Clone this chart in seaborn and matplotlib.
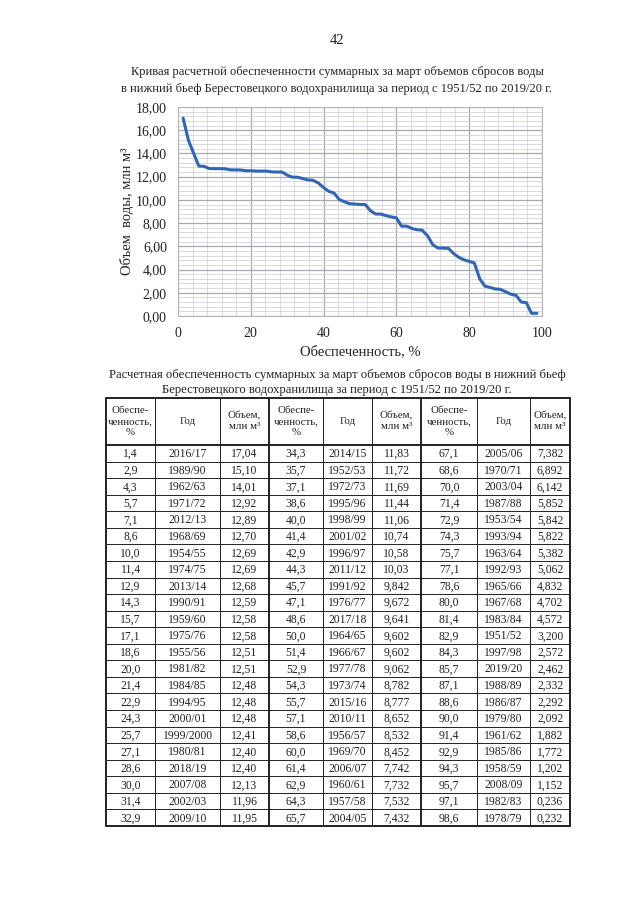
import numpy as np
import pandas as pd
import matplotlib
matplotlib.use("Agg")
import matplotlib.pyplot as plt
from matplotlib.ticker import MultipleLocator, FuncFormatter
import seaborn as sns

# Обеспеченность, %  (three table column groups, 23 rows each)
pct = [1.4, 2.9, 4.3, 5.7, 7.1, 8.6, 10.0, 11.4, 12.9, 14.3, 15.7, 17.1, 18.6, 20.0, 21.4, 22.9,
       24.3, 25.7, 27.1, 28.6, 30.0, 31.4, 32.9,
       34.3, 35.7, 37.1, 38.6, 40.0, 41.4, 42.9, 44.3, 45.7, 47.1, 48.6, 50.0, 51.4, 52.9, 54.3,
       55.7, 57.1, 58.6, 60.0, 61.4, 62.9, 64.3, 65.7,
       67.1, 68.6, 70.0, 71.4, 72.9, 74.3, 75.7, 77.1, 78.6, 80.0, 81.4, 82.9, 84.3, 85.7, 87.1,
       88.6, 90.0, 91.4, 92.9, 94.3, 95.7, 97.1, 98.6]

years = ["2016/17", "1989/90", "1962/63", "1971/72", "2012/13", "1968/69", "1954/55", "1974/75",
         "2013/14", "1990/91", "1959/60", "1975/76", "1955/56", "1981/82", "1984/85", "1994/95",
         "2000/01", "1999/2000", "1980/81", "2018/19", "2007/08", "2002/03", "2009/10",
         "2014/15", "1952/53", "1972/73", "1995/96", "1998/99", "2001/02", "1996/97", "2011/12",
         "1991/92", "1976/77", "2017/18", "1964/65", "1966/67", "1977/78", "1973/74", "2015/16",
         "2010/11", "1956/57", "1969/70", "2006/07", "1960/61", "1957/58", "2004/05",
         "2005/06", "1970/71", "2003/04", "1987/88", "1953/54", "1993/94", "1963/64", "1992/93",
         "1965/66", "1967/68", "1983/84", "1951/52", "1997/98", "2019/20", "1988/89", "1986/87",
         "1979/80", "1961/62", "1985/86", "1958/59", "2008/09", "1982/83", "1978/79"]

# Объем, млн м3
vols = [17.04, 15.10, 14.01, 12.92, 12.89, 12.70, 12.69, 12.69, 12.68, 12.59, 12.58, 12.58,
        12.51, 12.51, 12.48, 12.48, 12.48, 12.41, 12.40, 12.40, 12.13, 11.96, 11.95,
        11.83, 11.72, 11.69, 11.44, 11.06, 10.74, 10.58, 10.03, 9.842, 9.672, 9.641, 9.602,
        9.602, 9.062, 8.782, 8.777, 8.652, 8.532, 8.452, 7.742, 7.732, 7.532, 7.432,
        7.382, 6.892, 6.142, 5.852, 5.842, 5.822, 5.382, 5.062, 4.832, 4.702, 4.572, 3.200,
        2.572, 2.462, 2.332, 2.292, 2.092, 1.882, 1.772, 1.202, 1.152, 0.236, 0.232]

df = pd.DataFrame({"pct": pct, "year": years, "vol": vols})

sns.set_theme(style="white")
plt.rcParams["font.family"] = ["Liberation Serif", "DejaVu Serif"]
ink = "#222222"

fig = plt.figure(figsize=(6.4, 9.05), dpi=100)
fig.patch.set_facecolor("white")

# page-level drawing area in pixel coordinates (for titles and table)
page = fig.add_axes([0, 0, 1, 1], zorder=0)
page.set_xlim(0, 640)
page.set_ylim(905, 0)
page.axis("off")

page.text(337, 41, "42", ha="center", va="center", fontsize=10.5, color=ink)
page.text(337, 72, "Кривая расчетной обеспеченности суммарных за март объемов сбросов воды",
          ha="center", va="center", fontsize=9.0, color=ink)
page.text(337, 89, "в нижний бьеф Берестовецкого водохранилища за период с 1951/52 по 2019/20 г.",
          ha="center", va="center", fontsize=9.0, color=ink)

# --- chart ---
ax = fig.add_axes([178 / 640, 1 - 316 / 905, 364 / 640, 209 / 905], zorder=2)
sns.lineplot(data=df, x="pct", y="vol", ax=ax, color="#2f66b6", linewidth=2.2)
ax.set_xlim(0, 100)
ax.set_ylim(0, 18)
ax.xaxis.set_major_locator(MultipleLocator(20))
ax.xaxis.set_minor_locator(MultipleLocator(4))
ax.yaxis.set_major_locator(MultipleLocator(2))
ax.yaxis.set_minor_locator(MultipleLocator(0.4))
ax.yaxis.set_major_formatter(FuncFormatter(lambda v, p: f"{v:.2f}".replace(".", ",")))
ax.grid(which="major", color="#a9a9b2", linewidth=0.9)
ax.grid(which="minor", color="#d3d3dc", linewidth=0.6)
ax.set_axisbelow(True)
for s in ax.spines.values():
    s.set_color("#b5b5bd")
    s.set_linewidth(0.8)
ax.tick_params(axis="both", which="both", length=0, labelsize=10, colors=ink, pad=8)
ax.set_xlabel("Обеспеченность, %", fontsize=10.5, color=ink, labelpad=4)
ax.set_ylabel("Объем  воды, млн м³", fontsize=10.5, color=ink, labelpad=1)

# --- table ---
page.text(337, 375, "Расчетная обеспеченность суммарных за март объемов сбросов воды в нижний бьеф",
          ha="center", va="center", fontsize=9.1, color=ink)
page.text(337, 390, "Берестовецкого водохранилища за период с 1951/52 по 2019/20 г.",
          ha="center", va="center", fontsize=9.1, color=ink)

col_edges = [106, 155, 220, 269, 323, 372, 421, 477, 530, 570]
top, head_bot, bottom = 398, 445, 826
n_rows = 23
row_h = (bottom - head_bot) / n_rows

headers = ["Обеспе-\nченность,\n%", "Год", "Объем,\nмлн м³"] * 3
for j, h in enumerate(headers):
    cx = (col_edges[j] + col_edges[j + 1]) / 2
    page.text(cx, (top + head_bot) / 2, h, ha="center", va="center",
              fontsize=7.8, color=ink, linespacing=1.25)


def fmt_vol(v):
    s = f"{v:.2f}" if v >= 10 else f"{v:.3f}"
    return s.replace(".", ",")


for g in range(3):
    part = df.iloc[g * n_rows:(g + 1) * n_rows].reset_index(drop=True)
    for i, r in part.iterrows():
        cy = head_bot + (i + 0.55) * row_h
        cells = [f"{r.pct:.1f}".replace(".", ","), r.year, fmt_vol(r.vol)]
        for k, txt in enumerate(cells):
            j = g * 3 + k
            cx = (col_edges[j] + col_edges[j + 1]) / 2
            page.text(cx, cy, txt, ha="center", va="center", fontsize=8.4, color=ink)

# grid lines of the table
for i in range(n_rows + 1):
    y = head_bot + i * row_h
    lw = 1.4 if i in (0, n_rows) else 0.7
    page.plot([col_edges[0], col_edges[-1]], [y, y], color=ink, linewidth=lw)
page.plot([col_edges[0], col_edges[-1]], [top, top], color=ink, linewidth=1.4)
for j, x in enumerate(col_edges):
    lw = 1.4 if j in (0, 3, 6, 9) else 0.7
    page.plot([x, x], [top, bottom], color=ink, linewidth=lw)

fig.savefig("out.png", dpi=100, facecolor="white")
